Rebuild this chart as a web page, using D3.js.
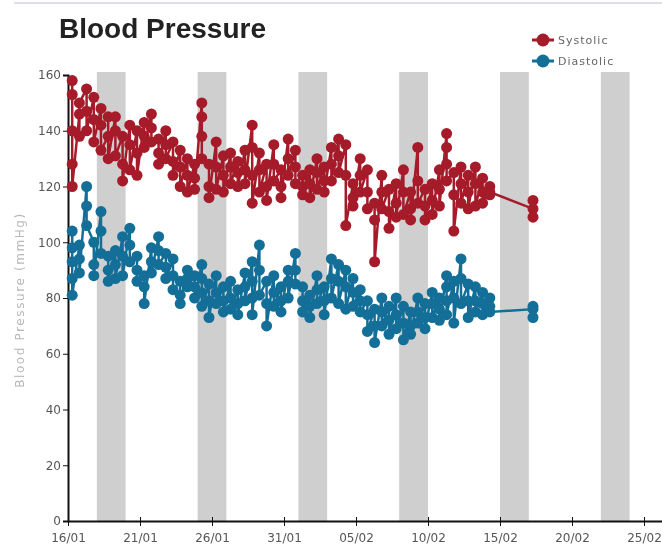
<html>
<head>
<meta charset="utf-8">
<title>Blood Pressure</title>
<script src="https://cdn.jsdelivr.net/npm/d3@7"></script>
<style>
body { margin:0; background:#fff; }
svg { display:block; filter: blur(0.4px); }
.tick text { font-family:"DejaVu Sans", Verdana, sans-serif; font-size:12px; fill:#555; }
</style>
</head>
<body>
<div id="chart"></div>
<script>

// one session = a few readings taken back to back
var sessionTimes = [
  "01-16 07:00","01-16 19:00","01-17 07:00","01-17 19:00","01-18 07:00","01-18 19:00",
  "01-19 07:00","01-19 19:00","01-20 07:00","01-20 19:00","01-21 07:00","01-21 19:00",
  "01-22 07:00","01-22 19:00","01-23 07:00","01-23 19:00","01-24 07:00","01-24 19:00",
  "01-25 07:00","01-25 19:00","01-26 07:00","01-26 19:00","01-27 07:00","01-27 19:00",
  "01-28 07:00","01-28 19:00","01-29 07:00","01-29 19:00","01-30 07:00","01-30 19:00",
  "01-31 07:00","01-31 19:00","02-01 07:00","02-01 19:00","02-02 07:00","02-02 19:00",
  "02-03 07:00","02-03 19:00","02-04 07:00","02-04 19:00","02-05 07:00","02-05 19:00",
  "02-06 07:00","02-06 19:00","02-07 07:00","02-07 19:00","02-08 07:00","02-08 19:00",
  "02-09 07:00","02-09 19:00","02-10 07:00","02-10 19:00","02-11 07:00","02-11 19:00",
  "02-12 07:00","02-12 19:00","02-13 07:00","02-13 19:00","02-14 07:00","02-17 07:00"
];

var systolic = [
  [158,153,140,128,120],[146,138,150],[155,147,140],[152,144,136],[148,142,133],[138,145,130],
  [145,140,131],[138,128,122],[142,135,126],[140,132,124],[143,138,134],[146,141,136],
  [137,132,128],[140,135,130],[136,129,124],[133,127,120],[130,124,118],[128,123,119],
  [150,145,138,130],[128,120,116],[136,127,119],[131,124,118],[132,127,121],[129,125,120],
  [133,126,121],[142,134,124,114],[132,126,118],[128,120,115],[135,128,122],[126,120,116],
  [137,130,124],[133,127,121],[124,120,117],[126,121,116],[130,125,119],[127,122,118],
  [134,128,122],[137,131,125],[135,124,106],[121,116,113],[130,124,118],[126,118,112],
  [114,108,93],[124,118,112],[119,111,105],[121,114,109],[126,118,110],[118,112,108],
  [134,122,114],[119,113,108],[121,115,110],[126,119,113],[139,134,128,122],[125,117,104],
  [127,121,114],[124,118,112],[127,121,113],[123,118,114],[120,117,118],[112,115,109]
];

var diastolic = [
  [104,98,93,87,81],[99,94,89],[120,113,106],[100,92,88],[111,104,96],[95,90,86],
  [97,92,87],[102,95,88],[105,99,93],[95,90,86],[88,84,78],[98,93,89],
  [102,97,92],[96,91,87],[94,88,83],[86,81,78],[90,87,84],[88,84,80],
  [92,87,82,77],[85,79,73],[88,82,78],[84,79,75],[86,80,76],[83,78,74],
  [89,84,79],[93,86,80,74],[99,90,81],[86,78,70],[88,82,77],[84,79,75],
  [90,86,80],[96,90,85],[84,79,75],[81,77,73],[88,83,78],[84,79,74],
  [94,87,80],[92,86,78],[90,84,76],[87,82,77],[83,79,75],[79,74,68],
  [76,70,64],[80,75,70],[77,72,67],[80,74,69],[77,71,65],[75,70,67],
  [80,75,71],[78,73,69],[82,78,73],[80,76,72],[88,84,79,74],[86,80,71],
  [94,87,78],[85,79,73],[84,79,75],[82,78,74],[80,77,75],[76,77,73]
];

// weekends (Sat - Sun)
var weekendStarts = ["01-18","01-25","02-01","02-08","02-15","02-22"];
var weekendEnds   = ["01-20","01-27","02-03","02-10","02-17","02-24"];

var xTickDates = ["01-16","01-21","01-26","01-31","02-05","02-10","02-15","02-20","02-25"];
var yTicks = [0,20,40,60,80,100,120,140,160];

var seriesNames = ["Systolic","Diastolic"];
var seriesColors = ["#a51b29","#136f98"];

var width = 662, height = 549;
var parseTime = d3.timeParse("%Y-%m-%d %H:%M");
var parseDay = d3.timeParse("%Y-%m-%d");
function t(s) { return parseTime("2014-" + s); }
function day(s) { return parseDay("2014-" + s); }

var x = d3.scaleTime()
  .domain([day("01-16"), day("02-28")])
  .range([68, 68 + 43 * 14.4]);

var y = d3.scaleLinear()
  .domain([0, 160])
  .range([521, 75]);

var svg = d3.select("#chart").append("svg")
  .attr("width", width).attr("height", height);

// faint rule on top
svg.append("line")
  .attr("x1", 14).attr("x2", width).attr("y1", 3).attr("y2", 3)
  .attr("stroke", "#e4dcec").attr("stroke-width", 2);

svg.append("text")
  .attr("x", 59).attr("y", 38)
  .style("font-family", "'Liberation Sans', Arial, sans-serif")
  .style("font-weight", "bold")
  .style("font-size", "28px")
  .attr("fill", "#222")
  .text("Blood Pressure");

// weekend bands
svg.append("g").selectAll("rect")
  .data(weekendStarts)
  .enter().append("rect")
  .attr("x", function(d) { return x(day(d)); })
  .attr("width", function(d, i) { return x(day(weekendEnds[i])) - x(day(d)); })
  .attr("y", 72)
  .attr("height", y(0) - 72)
  .attr("fill", "#cfcfcf");

// axes
var yAxis = svg.append("g")
  .attr("transform", "translate(68,0)")
  .call(d3.axisLeft(y).tickValues(yTicks).tickSize(5).tickPadding(2));
yAxis.select(".domain").attr("stroke", "#111").attr("stroke-width", 2);

var xAxis = svg.append("g")
  .attr("transform", "translate(0," + y(0) + ")")
  .call(d3.axisBottom(x)
    .tickValues(xTickDates.map(day))
    .tickFormat(d3.timeFormat("%d/%m"))
    .tickSizeInner(5).tickSizeOuter(0).tickPadding(7));
xAxis.select(".domain").attr("stroke", "#111").attr("stroke-width", 2);
xAxis.selectAll(".tick line").attr("y1", -4).attr("stroke", "#111");
yAxis.selectAll(".tick line").attr("stroke", "#111");

svg.append("text")
  .attr("transform", "translate(24,300) rotate(-90)")
  .attr("text-anchor", "middle")
  .style("font-family", "'DejaVu Sans', Verdana, sans-serif")
  .style("font-size", "12px")
  .style("letter-spacing", "1.6px")
  .attr("fill", "#b8b8b8")
  .text("Blood Pressure (mmHg)");

// flatten sessions into readings
function readings(values) {
  var out = [];
  sessionTimes.forEach(function(s, i) {
    values[i].forEach(function(v) { out.push({ date: t(s), value: v }); });
  });
  return out;
}

var line = d3.line()
  .x(function(d) { return x(d.date); })
  .y(function(d) { return y(d.value); });

[systolic, diastolic].forEach(function(values, k) {
  var data = readings(values);
  var g = svg.append("g");
  g.append("path")
    .datum(data)
    .attr("d", line)
    .attr("fill", "none")
    .attr("stroke", seriesColors[k])
    .attr("stroke-width", 2.5);
  g.selectAll("circle")
    .data(data)
    .enter().append("circle")
    .attr("cx", function(d) { return x(d.date); })
    .attr("cy", function(d) { return y(d.value); })
    .attr("r", 5.5)
    .attr("fill", seriesColors[k]);
});

// legend
var legend = svg.append("g").selectAll("g")
  .data(seriesNames)
  .enter().append("g")
  .attr("transform", function(d, i) { return "translate(532," + (40 + i * 21) + ")"; });
legend.append("line")
  .attr("x1", 0).attr("x2", 22)
  .attr("stroke", function(d, i) { return seriesColors[i]; })
  .attr("stroke-width", 3);
legend.append("circle")
  .attr("cx", 11).attr("r", 6.5)
  .attr("fill", function(d, i) { return seriesColors[i]; });
legend.append("text")
  .attr("x", 26).attr("y", 4)
  .style("font-family", "'DejaVu Sans', Verdana, sans-serif")
  .style("font-size", "11px")
  .style("letter-spacing", "1px")
  .attr("fill", "#666")
  .text(function(d) { return d; });

</script>
</body>
</html>
